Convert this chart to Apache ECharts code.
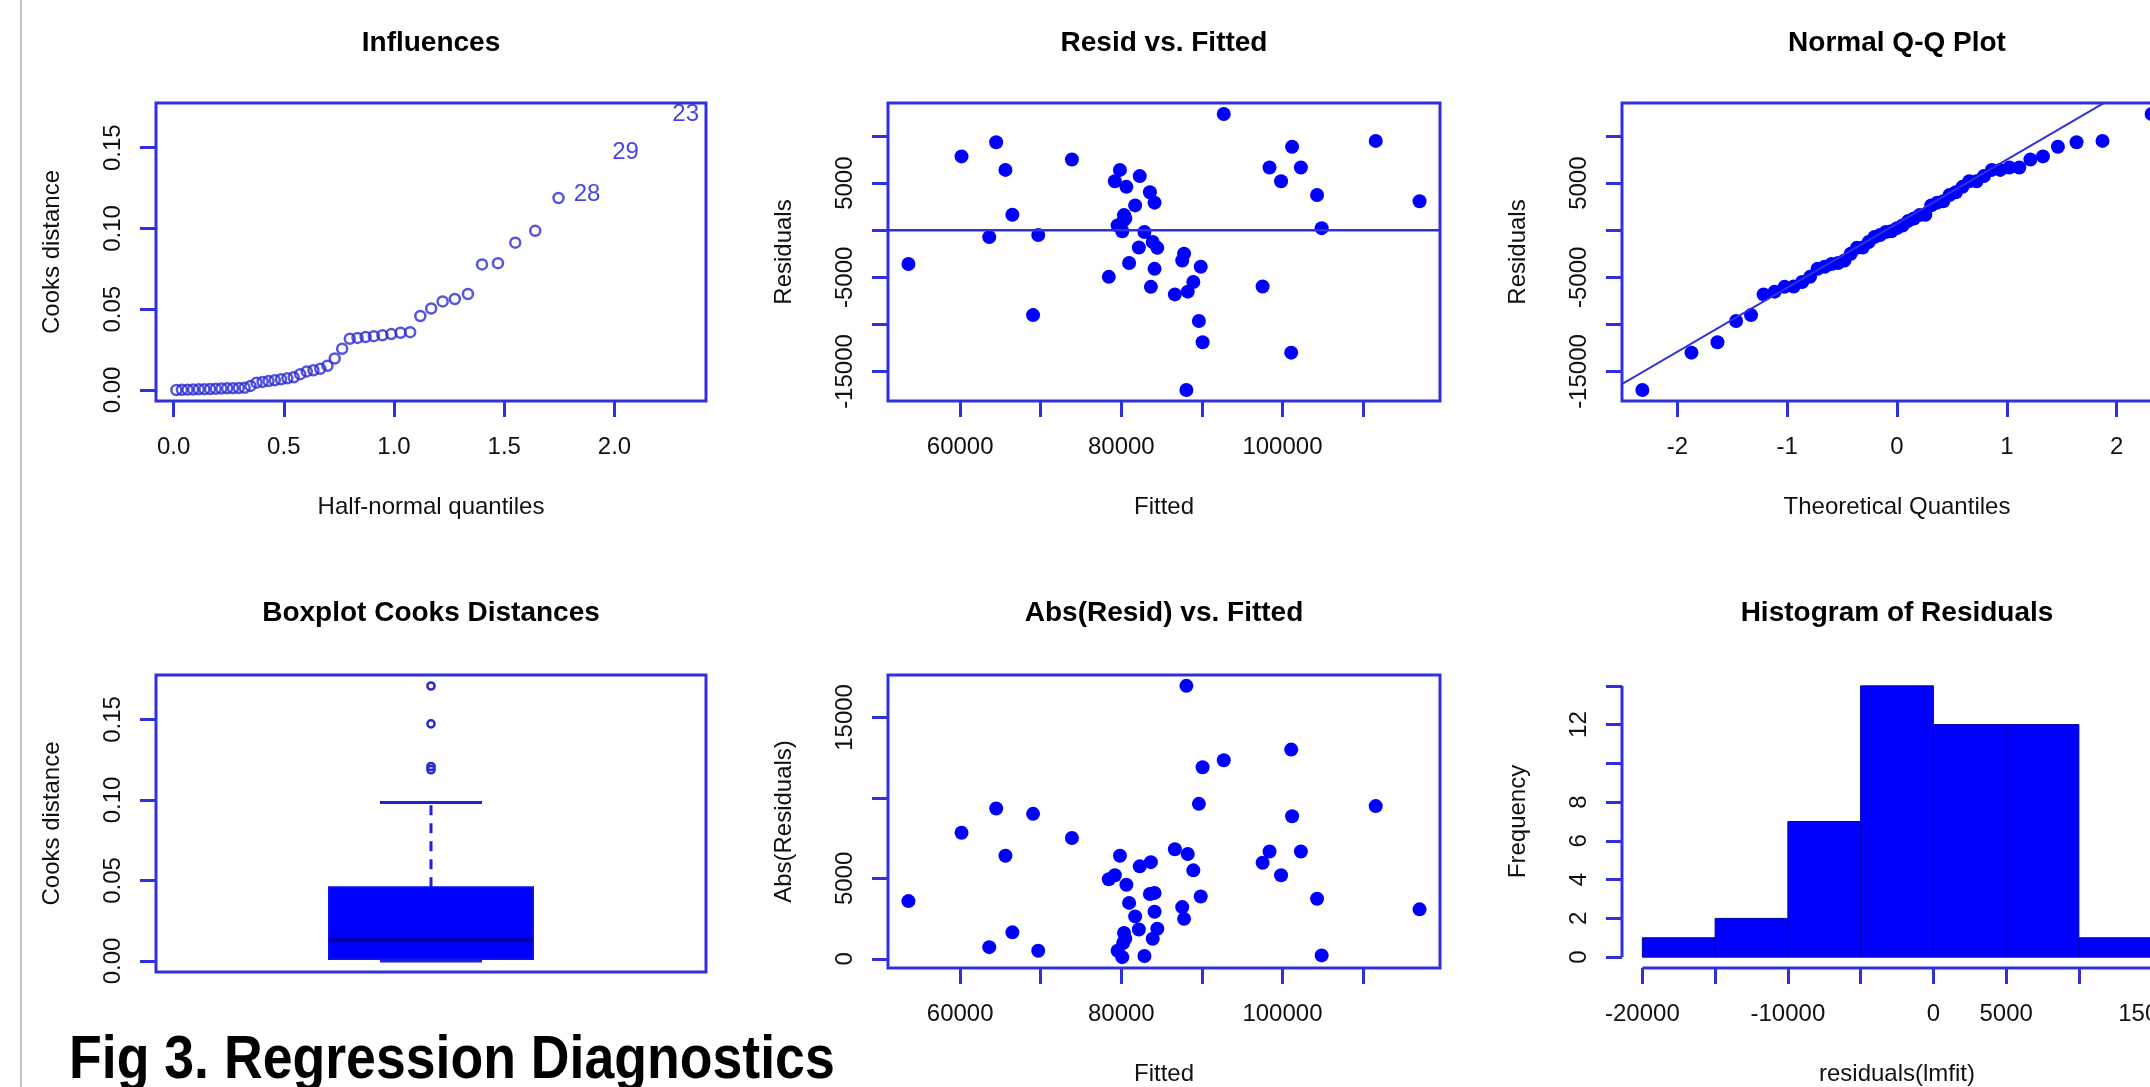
<!DOCTYPE html>
<html><head><meta charset="utf-8">
<script src="https://cdn.jsdelivr.net/npm/echarts@6/dist/echarts.min.js"></script>
<style>html,body{margin:0;padding:0;overflow:hidden;background:#fff}#c{width:2200px;height:1087px}</style>
</head><body><div id="c"></div><script>
// ---------------- data ----------------
const fitted = [53580,60170,64470,65620,66480,63610,69690,69050,73870,92720,79830,79200,80630,82290,83550,84130,81720,80340,80230,79540,80120,82870,83900,84470,82180,80970,84130,78450,83670,86650,88250,88940,89860,87560,87790,89630,90090,88080,101090,97540,98400,99830,101200,102290,104300,104870,111580,117020,80500];
const resid = [-3590,7840,9340,6410,1650,-730,-510,-9010,7510,12340,6410,5200,4610,5750,4030,2930,2640,1610,990,510,-110,-180,-1250,-1870,-1830,-3480,-4100,-4950,-6010,-6810,-6520,-5500,-3880,-3220,-2490,-9630,-11900,-16960,-13000,-5970,6670,5200,8860,6670,3740,220,9490,3080,1250];
const halfQuantiles = [0.0127,0.0380,0.0634,0.0888,0.1142,0.1397,0.1653,0.1911,0.2170,0.2430,0.2693,0.2957,0.3224,0.3488,0.3764,0.4040,0.4307,0.4590,0.4874,0.5162,0.5450,0.5743,0.6042,0.6346,0.6656,0.6980,0.7310,0.7647,0.7994,0.8346,0.8712,0.9085,0.9474,0.9876,1.0295,1.0732,1.1192,1.1686,1.2206,1.2759,1.3352,1.3992,1.4714,1.5499,1.6404,1.7461,1.8756,2.0500,2.3227];
const cooksSorted = [0.0000,0.0001,0.0002,0.0003,0.0004,0.0005,0.0006,0.0007,0.0009,0.0010,0.0011,0.0012,0.0013,0.0025,0.0045,0.0050,0.0055,0.0060,0.0066,0.0072,0.0078,0.0098,0.0115,0.0122,0.0131,0.0150,0.0195,0.0255,0.0317,0.0322,0.0328,0.0333,0.0338,0.0346,0.0354,0.0358,0.0458,0.0504,0.0548,0.0563,0.0594,0.0777,0.0785,0.0912,0.0985,0.1188,0.1208,0.1473,0.1708];
const cooksLabels = ['28','29','23'];
const normQuantiles = [-2.3187,-1.8714,-1.6350,-1.4652,-1.3293,-1.2148,-1.1137,-1.0236,-0.9404,-0.8636,-0.7916,-0.7237,-0.6583,-0.5961,-0.5361,-0.4780,-0.4214,-0.3661,-0.3118,-0.2585,-0.2059,-0.1540,-0.1025,-0.0512,0,0.0512,0.1025,0.1540,0.2059,0.2585,0.3118,0.3661,0.4214,0.4780,0.5361,0.5961,0.6583,0.7237,0.7916,0.8636,0.9404,1.0236,1.1137,1.2148,1.3293,1.4652,1.6350,1.8714,2.3187];
const qqIntercept = 700;
const qqSlope = 6800;
const histBreaks = [-20000,-15000,-10000,-5000,0,5000,10000,15000];
const histCounts = [1,2,7,14,12,12,1];
// tick positions and labelled ticks
const halfTicks = [0,0.5,1,1.5,2];
const cooksTicks = [0,0.05,0.10,0.15];
const fittedTicks = [60000,70000,80000,90000,100000,110000];
const fittedTickLabels = [60000,80000,100000];
const residTicks = [-15000,-10000,-5000,0,5000,10000];
const residTickLabels = [-15000,-5000,5000];
const qqTicks = [-2,-1,0,1,2];
const absTicks = [0,5000,10000,15000];
const absTickLabels = [0,5000,15000];
const histXTicks = [-20000,-15000,-10000,-5000,0,5000,10000,15000];
const histXLabels = [-20000,-10000,0,5000,15000];
const freqTicks = [0,2,4,6,8,10,12,14];
const freqLabels = [0,2,4,6,8,12];

// ---------------- styling / helpers ----------------
const FONT = '"Liberation Sans", Arial, sans-serif';
const BLUE = '#0000ff';
const LINE = '#3030dc';
const TXT = '#111';
function rRange(vals){const mn=Math.min(...vals),mx=Math.max(...vals),d=(mx-mn)*0.04;return [mn-d,mx+d];}
const S = v => String(v);
function makeX(gi, range, ticks, labels, name, fmt){
  return {type:'value', gridIndex:gi, min:range[0], max:range[1], name:name, nameLocation:'middle', nameGap:94,
    nameTextStyle:{fontSize:24,color:TXT,fontFamily:FONT},
    axisLine:{show:false,onZero:false}, splitLine:{show:false},
    axisTick:{show:true,inside:false,length:16,lineStyle:{color:LINE,width:3},customValues:ticks},
    axisLabel:{show:true,customValues:labels,margin:34,fontSize:24,color:TXT,fontFamily:FONT,formatter:fmt||S}};
}
function makeY(gi, range, ticks, labels, name, fmt){
  return {type:'value', gridIndex:gi, min:range[0], max:range[1], name:name, nameLocation:'middle', nameGap:92, nameRotate:90,
    nameTextStyle:{fontSize:24,color:TXT,fontFamily:FONT},
    axisLine:{show:false,onZero:false}, splitLine:{show:false},
    axisTick:{show:true,inside:false,length:16,lineStyle:{color:LINE,width:3},customValues:ticks},
    axisLabel:{show:true,rotate:90,customValues:labels,margin:31,fontSize:24,color:TXT,fontFamily:FONT,formatter:fmt||S}};
}

const absResid = resid.map(Math.abs);
const fitRange = rRange(fitted);
const resRange = rRange(resid);
const absRange = rRange(absResid);
const halfRange = rRange(halfQuantiles);
const cookRange = rRange(cooksSorted);
const qqRange = rRange(normQuantiles);
const histXRange = rRange([histBreaks[0], histBreaks[histBreaks.length-1]]);
const histYRange = rRange([0, Math.max(...histCounts)]);
const residSorted = resid.slice().sort((a,b)=>a-b);

// R-style boxplot stats
function boxStats(sorted){
  const n=sorted.length, n4=Math.floor((n+3)/2)/2;
  const d=[1,n4,(n+1)/2,n+1-n4,n].map(v=>v-1);
  const fv=d.map(v=>0.5*(sorted[Math.floor(v)]+sorted[Math.ceil(v)]));
  const iqr=fv[3]-fv[1], hiF=fv[3]+1.5*iqr, loF=fv[1]-1.5*iqr;
  const inside=sorted.filter(v=>v>=loF&&v<=hiF);
  return {q1:fv[1],med:fv[2],q3:fv[3],lo:Math.min(...inside),hi:Math.max(...inside),out:sorted.filter(v=>v<loF||v>hiF)};
}
const bs = boxStats(cooksSorted);

const nLab = cooksLabels.length;
const nPts = cooksSorted.length;

const grids = [
  {left:156, top:103, width:550, height:298},
  {left:888, top:103, width:552, height:298},
  {left:1622,top:103, width:550, height:298},
  {left:156, top:675, width:550, height:297},
  {left:888, top:675, width:552, height:297},
  {left:1622,top:675, width:550, height:297}
].map((g,i)=>Object.assign(g,{show:i<5, borderColor:LINE, borderWidth:3, backgroundColor:'transparent'}));

const xAxes = [
  makeX(0, halfRange, halfTicks, halfTicks, 'Half-normal quantiles', v=>v.toFixed(1)),
  makeX(1, fitRange, fittedTicks, fittedTickLabels, 'Fitted'),
  makeX(2, qqRange, qqTicks, qqTicks, 'Theoretical Quantiles'),
  {type:'value', gridIndex:3, min:0, max:1, show:false},
  makeX(4, fitRange, fittedTicks, fittedTickLabels, 'Fitted'),
  makeX(5, histXRange, histXTicks, histXLabels, 'residuals(lmfit)')
];
const yAxes = [
  makeY(0, cookRange, cooksTicks, cooksTicks, 'Cooks distance', v=>v.toFixed(2)),
  makeY(1, resRange, residTicks, residTickLabels, 'Residuals'),
  makeY(2, resRange, residTicks, residTickLabels, 'Residuals'),
  makeY(3, cookRange, cooksTicks, cooksTicks, 'Cooks distance', v=>v.toFixed(2)),
  makeY(4, absRange, absTicks, absTickLabels, 'Abs(Residuals)'),
  makeY(5, histYRange, freqTicks, freqLabels, 'Frequency')
];

const dot = {type:'scatter', symbol:'circle', symbolSize:14, itemStyle:{color:BLUE, opacity:1}, silent:true};

const series = [
  // Influences: open circles
  {type:'scatter', xAxisIndex:0, yAxisIndex:0, symbol:'circle', symbolSize:10, silent:true,
   itemStyle:{color:'rgba(255,255,255,0)', borderColor:'#2a2ad4', borderWidth:2.5},
   data: cooksSorted.slice(0,nPts-nLab).map((v,i)=>[halfQuantiles[i], v])},
  // Influences: text labels for largest values
  {type:'scatter', xAxisIndex:0, yAxisIndex:0, symbol:'circle', symbolSize:2, silent:true,
   itemStyle:{color:'rgba(255,255,255,0)'},
   label:{show:true, position:'inside', formatter:'{b}', fontSize:24, color:'#1414e0', fontFamily:FONT},
   data: cooksLabels.map((l,k)=>({name:l, value:[halfQuantiles[nPts-nLab+k], cooksSorted[nPts-nLab+k]]}))},
  // Resid vs fitted
  Object.assign({}, dot, {xAxisIndex:1, yAxisIndex:1, data: fitted.map((f,i)=>[f, resid[i]])}),
  {type:'line', xAxisIndex:1, yAxisIndex:1, symbol:'none', silent:true, lineStyle:{color:LINE, width:2.5},
   data:[[fitRange[0],0],[fitRange[1],0]]},
  // QQ
  Object.assign({}, dot, {xAxisIndex:2, yAxisIndex:2, data: residSorted.map((r,i)=>[normQuantiles[i], r])}),
  {type:'line', xAxisIndex:2, yAxisIndex:2, symbol:'none', silent:true, clip:true, lineStyle:{color:LINE, width:2},
   data:[[qqRange[0]-1, qqIntercept+qqSlope*(qqRange[0]-1)],[qqRange[1]+1, qqIntercept+qqSlope*(qqRange[1]+1)]]},
  // Boxplot
  {type:'custom', xAxisIndex:3, yAxisIndex:3, silent:true, clip:false, data:[[0.5]],
   renderItem:function(params, api){
     const c = api.coord([0.5, bs.q1]); const cx = c[0];
     const Y = v => api.coord([0.5, v])[1];
     const hw = 102, sw = 51;
     const kids = [];
     kids.push({type:'line', shape:{x1:cx,y1:Y(bs.q3),x2:cx,y2:Y(bs.hi)}, style:{stroke:'#2020e0',lineWidth:3,lineDash:[10,8]}});
     kids.push({type:'line', shape:{x1:cx,y1:Y(bs.q1),x2:cx,y2:Y(bs.lo)}, style:{stroke:'#2020e0',lineWidth:3,lineDash:[10,8]}});
     kids.push({type:'line', shape:{x1:cx-sw,y1:Y(bs.hi),x2:cx+sw,y2:Y(bs.hi)}, style:{stroke:'#2020e0',lineWidth:3}});
     kids.push({type:'line', shape:{x1:cx-sw,y1:Y(bs.lo),x2:cx+sw,y2:Y(bs.lo)}, style:{stroke:'#2020e0',lineWidth:3}});
     kids.push({type:'rect', shape:{x:cx-hw,y:Y(bs.q3),width:2*hw,height:Y(bs.q1)-Y(bs.q3)}, style:{fill:BLUE,stroke:'#1010e8',lineWidth:2}});
     kids.push({type:'line', shape:{x1:cx-hw,y1:Y(bs.med),x2:cx+hw,y2:Y(bs.med)}, style:{stroke:'#0000b4',lineWidth:5}});
     bs.out.forEach(v=>kids.push({type:'circle', shape:{cx:cx,cy:Y(v),r:3.6}, style:{fill:'none',stroke:'#2a2ad4',lineWidth:2.5}}));
     return {type:'group', children:kids};
   }},
  // Abs resid vs fitted
  Object.assign({}, dot, {xAxisIndex:4, yAxisIndex:4, data: fitted.map((f,i)=>[f, absResid[i]])}),
  // Histogram
  {type:'custom', xAxisIndex:5, yAxisIndex:5, silent:true,
   data: histCounts.map((c,i)=>[histBreaks[i], histBreaks[i+1], c]),
   encode:{x:[0,1], y:2},
   renderItem:function(params, api){
     const p0 = api.coord([api.value(0), api.value(2)]);
     const p1 = api.coord([api.value(1), 0]);
     return {type:'rect', shape:{x:p0[0], y:p0[1], width:p1[0]-p0[0], height:p1[1]-p0[1]},
       style:{fill:BLUE, stroke:'#0000b0', lineWidth:1}};
   }},
  {type:'line', xAxisIndex:5, yAxisIndex:5, symbol:'none', silent:true, clip:false, lineStyle:{color:LINE, width:3},
   data:[[histBreaks[0], histYRange[0]],[histBreaks[histBreaks.length-1], histYRange[0]]]},
  {type:'line', xAxisIndex:5, yAxisIndex:5, symbol:'none', silent:true, clip:false, lineStyle:{color:LINE, width:3},
   data:[[histXRange[0], freqTicks[0]],[histXRange[0], freqTicks[freqTicks.length-1]]]}
];

function title(x, y, t){
  return {type:'text', x:x, y:y, silent:true, style:{text:t, font:'bold 28px '+FONT, fill:'#000', align:'center', verticalAlign:'middle'}};
}
const graphic = [
  {type:'line', silent:true, shape:{x1:21,y1:0,x2:21,y2:1087}, style:{stroke:'#c4c4c4', lineWidth:2}},
  title(431, 43, 'Influences'),
  title(1164, 43, 'Resid vs. Fitted'),
  title(1897, 43, 'Normal Q-Q Plot'),
  title(431, 613, 'Boxplot Cooks Distances'),
  title(1164, 613, 'Abs(Resid) vs. Fitted'),
  title(1897, 613, 'Histogram of Residuals'),
  {type:'text', x:69, y:1061, scaleX:0.879, silent:true, z:10,
   style:{text:'Fig 3. Regression Diagnostics', font:'bold 61px '+FONT, fill:'#000', align:'left', verticalAlign:'middle'}}
];

const chart = echarts.init(document.getElementById('c'), null, {renderer:'canvas'});
chart.setOption({animation:false, backgroundColor:'#fff', grid:grids, xAxis:xAxes, yAxis:yAxes, series:series, graphic:graphic});
</script></body></html>
